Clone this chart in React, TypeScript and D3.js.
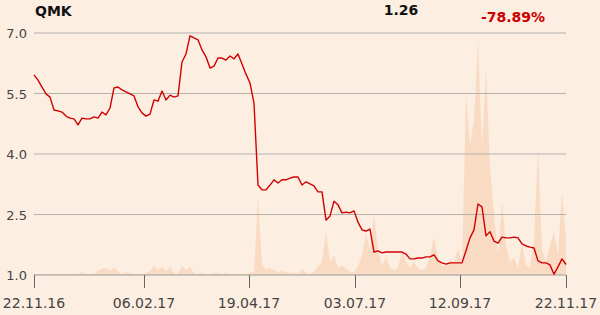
import React from "react";
import * as d3 from "d3";

const title = "QMK";
const lastPrice = "1.26";
const changePct = "-78.89%";

const prices: number[] = [
  5.96, 5.83, 5.66, 5.49, 5.41, 5.09, 5.07, 5.04, 4.94, 4.89,
  4.87, 4.72, 4.89, 4.87, 4.87, 4.92, 4.89, 5.04, 4.97, 5.14,
  5.64, 5.66, 5.59, 5.54, 5.49, 5.44, 5.17, 5.02, 4.94, 4.99,
  5.34, 5.31, 5.56, 5.34, 5.46, 5.41, 5.44, 6.28, 6.48, 6.93,
  6.88, 6.83, 6.58, 6.41, 6.13, 6.18, 6.38, 6.38, 6.33, 6.43,
  6.36, 6.48, 6.23, 5.98, 5.76, 5.26, 3.23, 3.11, 3.11, 3.23,
  3.36, 3.28, 3.36, 3.36, 3.40, 3.43, 3.43, 3.23, 3.31, 3.26,
  3.21, 3.06, 3.06, 2.36, 2.46, 2.83, 2.74, 2.54, 2.56, 2.54,
  2.59, 2.31, 2.12, 2.09, 2.14, 1.57, 1.60, 1.55, 1.57, 1.57,
  1.57, 1.57, 1.57, 1.52, 1.40, 1.40, 1.42, 1.42, 1.45, 1.45,
  1.50, 1.35, 1.30, 1.27, 1.30, 1.30, 1.30, 1.30, 1.60, 1.92,
  2.12, 2.76, 2.69, 1.97, 2.07, 1.84, 1.79, 1.94, 1.92, 1.92,
  1.94, 1.92, 1.77, 1.72, 1.69, 1.67, 1.35, 1.30, 1.30, 1.25,
  1.02, 1.20, 1.40, 1.26,
];

const volumes: number[] = [
  0.4, 0.4, 0.4, 0.4, 0.4, 0.4, 0.4, 0.4, 0.4, 0.4,
  0.4, 0.4, 1.2, 0.4, 0.4, 0.4, 1.7, 2.5, 2.9, 1.7,
  3.3, 1.2, 0.4, 1.2, 0.8, 0.4, 0.4, 0.4, 0.8, 1.7,
  3.7, 2.1, 3.3, 1.7, 3.3, 0.8, 0.4, 3.7, 2.1, 3.3,
  0.8, 0.4, 0.8, 0.4, 0.4, 0.8, 0.8, 0.4, 0.8, 0.4,
  0.4, 0.4, 0.4, 0.4, 0.8, 1.2, 32.6, 4.5, 2.1, 2.9,
  2.1, 1.2, 1.7, 1.2, 0.8, 0.8, 0.4, 2.5, 0.8, 0.4,
  1.2, 3.7, 5.4, 18.2, 5.4, 7.9, 2.9, 3.7, 2.9, 1.2,
  1.2, 3.7, 7.9, 17.4, 10.3, 24.8, 10.3, 3.7, 7.9, 2.9,
  2.1, 2.9, 9.5, 5.4, 2.9, 5.4, 2.9, 2.1, 2.9, 7.9,
  15.7, 7.0, 3.7, 3.7, 6.2, 5.4, 11.2, 3.7, 74.4, 53.7,
  64.0, 97.1, 52.9, 85.5, 45.5, 24.8, 8.3, 30.2, 12.4, 5.4,
  7.0, 2.9, 13.2, 4.1, 2.9, 14.5, 52.5, 10.3, 5.4, 12.4,
  17.8, 8.3, 34.3, 14.5,
];

const yTicks: number[] = [1.0, 2.5, 4.0, 5.5, 7.0];
const xTickIndex: number[] = [0, 27.5, 53.75, 80.25, 106.5, 133];
const xTickLabels: string[] = ["22.11.16", "06.02.17", "19.04.17", "03.07.17", "12.09.17", "22.11.17"];

export default function App() {
  const W = 600, H = 315;
  const left = 34, right = 566, top = 33, bottom = 275;
  const x = d3.scaleLinear().domain([0, prices.length - 1]).range([left, right]);
  const y = d3.scaleLinear().domain([1, 7]).range([bottom, top]);
  const yv = d3.scaleLinear().domain([0, 100]).range([bottom, top]);

  const line = d3.line<number>().x((_, i) => x(i)).y((d) => y(d));
  const area = d3.area<number>().x((_, i) => x(i)).y0(bottom).y1((d) => yv(d));

  const font = "'DejaVu Sans', sans-serif";
  return (
    <svg width={W} height={H} style={{ position: "fixed", left: 0, top: 0, background: "#FCEEE1" }}>
      <rect x={0} y={0} width={W} height={H} fill="#FCEEE1" />
      <path d={area(volumes) || ""} fill="#F9DBC4" />
      {yTicks.map((t) => (
        <g key={t}>
          <line x1={left} x2={right} y1={y(t)} y2={y(t)} stroke={t === 1 ? "#999" : "#B5B2AE"} strokeWidth={1} />
          <text x={27} y={y(t) + 5} textAnchor="end" fontSize={13} fill="#444" fontFamily={font}>
            {t.toFixed(1)}
          </text>
        </g>
      ))}
      {xTickIndex.map((t, i) => (
        <g key={i}>
          <line x1={Math.round(x(t)) + 0.5} x2={Math.round(x(t)) + 0.5} y1={bottom} y2={288} stroke="#666" strokeWidth={1} />
          <text x={x(t)} y={308} textAnchor="middle" fontSize={14} fill="#444" fontFamily={font}>
            {xTickLabels[i]}
          </text>
        </g>
      ))}
      <path d={line(prices) || ""} fill="none" stroke="#D20000" strokeWidth={1.4} strokeLinejoin="round" />
      <text x={35} y={16} fontSize={14} fontWeight="bold" fill="#111" fontFamily={font}>{title}</text>
      <text x={401} y={15} textAnchor="middle" fontSize={14} fontWeight="bold" fill="#111" fontFamily={font}>{lastPrice}</text>
      <text x={513} y={22} textAnchor="middle" fontSize={14} fontWeight="bold" fill="#CC0000" fontFamily={font}>{changePct}</text>
    </svg>
  );
}
